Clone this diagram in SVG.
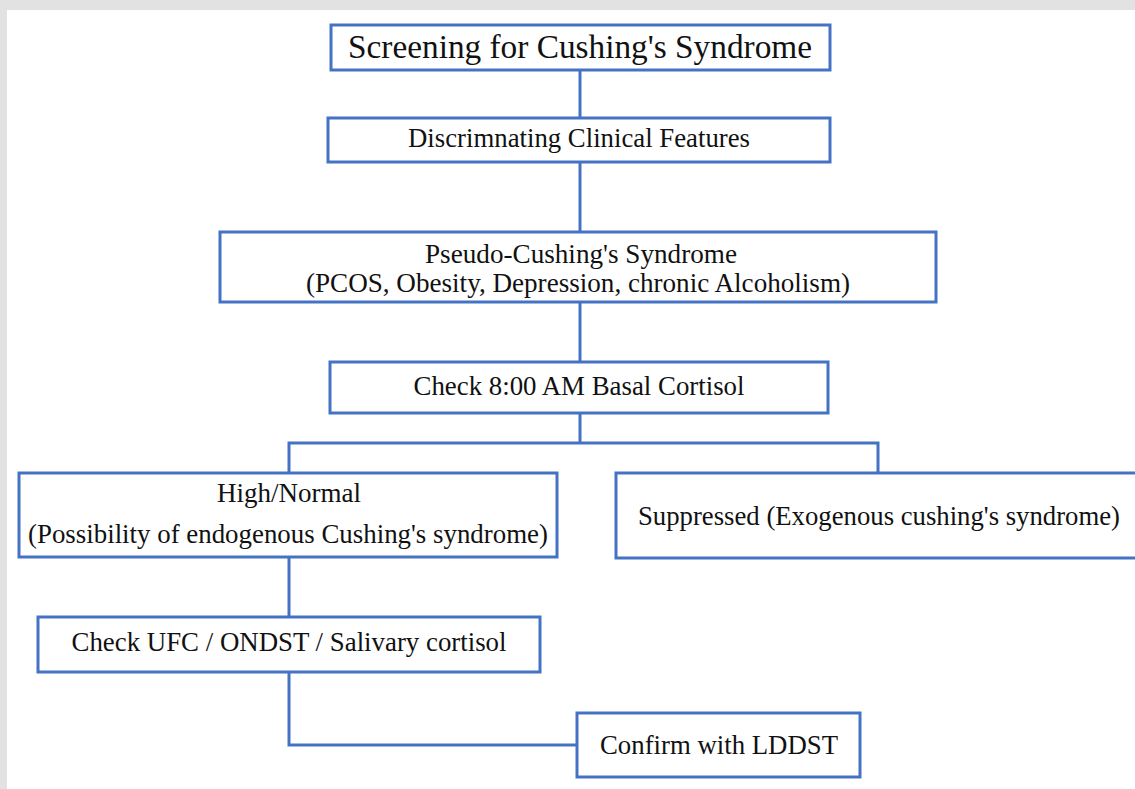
<svg xmlns="http://www.w3.org/2000/svg" width="1135" height="789" viewBox="0 0 1135 789">
<style>
.box{fill:#ffffff;stroke:#4472c4;stroke-width:3}
.con{fill:none;stroke:#4472c4;stroke-width:3}
text{fill:#111111;text-anchor:middle;font-family:'Liberation Serif','Times New Roman',serif}
.t1{font-size:33px}
.t2{font-size:27px}
</style>
<rect x="0" y="0" width="1135" height="789" fill="#e2e2e2"/>
<rect x="7" y="10" width="1128" height="779" fill="#ffffff"/>
<g id="connectors">
<line class="con" x1="580" y1="70" x2="580" y2="118"/>
<line class="con" x1="580" y1="162" x2="580" y2="232"/>
<line class="con" x1="580" y1="302" x2="580" y2="362"/>
<path class="con" d="M580 413 V443 M289 473 V443 H878 V473"/>
<line class="con" x1="289" y1="557" x2="289" y2="617"/>
<path class="con" d="M289 672 V745 H577"/>
</g>
<g id="n1"><rect class="box" x="331" y="25" width="499" height="45"/><text class="t1" x="580" y="58" textLength="464" lengthAdjust="spacingAndGlyphs">Screening for Cushing's Syndrome</text></g>
<g id="n2"><rect class="box" x="328" y="118" width="502" height="44"/><text class="t2" x="579" y="147" textLength="342" lengthAdjust="spacingAndGlyphs">Discrimnating Clinical Features</text></g>
<g id="n3"><rect class="box" x="220" y="232" width="716" height="70"/><text class="t2" x="581" y="263" textLength="312" lengthAdjust="spacingAndGlyphs">Pseudo-Cushing's Syndrome</text><text class="t2" x="578" y="292" textLength="544" lengthAdjust="spacingAndGlyphs">(PCOS, Obesity, Depression, chronic Alcoholism)</text></g>
<g id="n4"><rect class="box" x="330" y="362" width="498" height="51"/><text class="t2" x="579" y="395" textLength="331" lengthAdjust="spacingAndGlyphs">Check 8:00 AM Basal Cortisol</text></g>
<g id="n5"><rect class="box" x="19" y="473" width="538" height="84"/><text class="t2" x="289" y="502" textLength="144" lengthAdjust="spacingAndGlyphs">High/Normal</text><text class="t2" x="288" y="543" textLength="520" lengthAdjust="spacingAndGlyphs">(Possibility of endogenous Cushing's syndrome)</text></g>
<g id="n6"><rect class="box" x="616" y="473" width="530" height="85"/><text class="t2" x="879" y="525" textLength="482" lengthAdjust="spacingAndGlyphs">Suppressed (Exogenous cushing's syndrome)</text></g>
<g id="n7"><rect class="box" x="38" y="617" width="502" height="55"/><text class="t2" x="289" y="651" textLength="435" lengthAdjust="spacingAndGlyphs">Check UFC / ONDST / Salivary cortisol</text></g>
<g id="n8"><rect class="box" x="577" y="713" width="283" height="64"/><text class="t2" x="719" y="754" textLength="238" lengthAdjust="spacingAndGlyphs">Confirm with LDDST</text></g>
</svg>
